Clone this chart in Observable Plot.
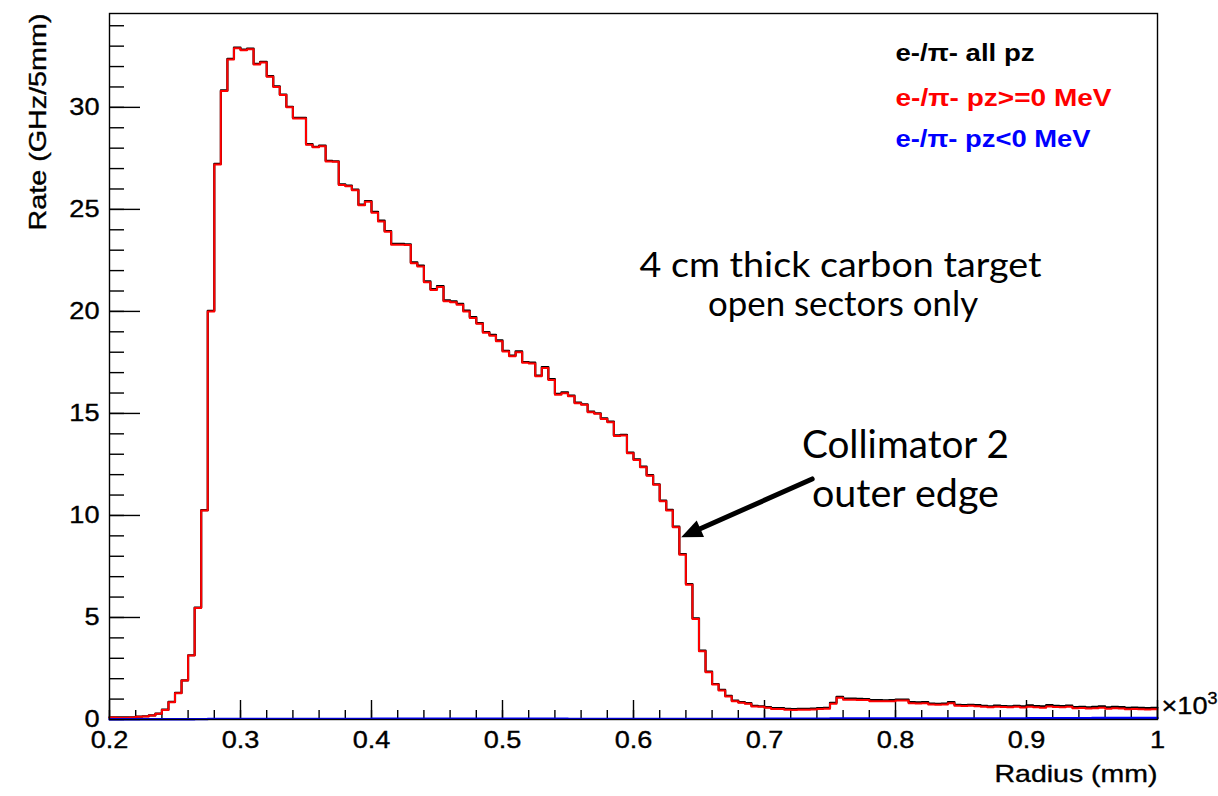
<!DOCTYPE html>
<html>
<head>
<meta charset="utf-8">
<script src="https://cdn.jsdelivr.net/npm/d3@7"></script>
<script src="https://cdn.jsdelivr.net/npm/@observablehq/plot@0.6"></script>
<style>
  html, body { margin: 0; padding: 0; background: #ffffff; }
  #chart { width: 1218px; height: 796px; }
  #chart svg g[aria-label="x-axis tick label"] text,
  #chart svg g[aria-label="y-axis tick label"] text,
  #chart svg .roottext text { stroke: #000; stroke-width: 0.35px; }
</style>
</head>
<body>
<div id="chart"></div>
<script>
// ---- binning (Radius in units of 10^3 mm, 5 mm bins) ----
const binLow = 0.2;
const binWidth = 0.005;
const binHigh = 1.0;

// ---- series values (GHz / 5mm), one value per bin ----
const allPz = [
  0.11, 0.10, 0.10, 0.11, 0.14, 0.16, 0.20, 0.29, 0.48, 0.86,
  1.30, 1.92, 3.15, 5.49, 10.26, 20.03, 27.23, 30.83, 32.38, 32.93,
  32.83, 32.88, 32.13, 32.23, 31.53, 31.03, 30.63, 30.03, 29.49, 29.48,
  28.20, 28.07, 28.12, 27.38, 27.36, 26.23, 26.16, 25.97, 25.23, 25.41,
  24.88, 24.45, 23.94, 23.31, 23.31, 23.29, 22.40, 22.24, 21.47, 21.09,
  21.24, 20.54, 20.49, 20.37, 20.04, 19.72, 19.43, 18.99, 18.85, 18.58,
  18.07, 17.84, 18.04, 17.52, 17.49, 16.86, 17.27, 16.68, 15.96, 16.03,
  15.87, 15.53, 15.45, 15.09, 15.01, 14.76, 14.60, 13.93, 13.95, 13.08,
  12.75, 12.39, 11.98, 11.53, 10.73, 10.27, 9.45, 8.11, 6.64, 4.96,
  3.38, 2.35, 1.74, 1.45, 1.16, 0.93, 0.85, 0.80, 0.67, 0.65,
  0.61, 0.56, 0.56, 0.52, 0.51, 0.52, 0.52, 0.53, 0.56, 0.57,
  0.82, 1.11, 1.02, 1.02, 1.01, 1.00, 0.95, 0.95, 0.94, 0.95,
  0.98, 0.98, 0.85, 0.84, 0.85, 0.78, 0.77, 0.78, 0.85, 0.72,
  0.71, 0.72, 0.70, 0.67, 0.65, 0.68, 0.66, 0.65, 0.67, 0.64,
  0.69, 0.66, 0.64, 0.70, 0.67, 0.66, 0.68, 0.61, 0.62, 0.60,
  0.62, 0.64, 0.60, 0.62, 0.61, 0.57, 0.58, 0.57, 0.56, 0.57
];
const pzPos = [
  0.10, 0.09, 0.09, 0.10, 0.13, 0.15, 0.19, 0.28, 0.47, 0.85,
  1.29, 1.91, 3.14, 5.47, 10.24, 20.00, 27.20, 30.80, 32.35, 32.90,
  32.80, 32.85, 32.10, 32.20, 31.50, 31.00, 30.60, 30.00, 29.46, 29.45,
  28.17, 28.04, 28.09, 27.35, 27.33, 26.20, 26.13, 25.94, 25.20, 25.38,
  24.84, 24.41, 23.90, 23.27, 23.27, 23.25, 22.36, 22.20, 21.43, 21.05,
  21.20, 20.50, 20.45, 20.33, 20.00, 19.68, 19.39, 18.95, 18.81, 18.54,
  18.03, 17.80, 18.00, 17.48, 17.45, 16.82, 17.23, 16.64, 15.92, 15.99,
  15.84, 15.50, 15.42, 15.06, 14.98, 14.73, 14.57, 13.90, 13.92, 13.05,
  12.72, 12.36, 11.95, 11.50, 10.70, 10.24, 9.42, 8.08, 6.61, 4.93,
  3.35, 2.32, 1.71, 1.42, 1.13, 0.90, 0.82, 0.77, 0.64, 0.62,
  0.57, 0.52, 0.52, 0.48, 0.47, 0.48, 0.48, 0.49, 0.52, 0.53,
  0.77, 1.06, 0.97, 0.97, 0.96, 0.95, 0.90, 0.90, 0.89, 0.90,
  0.93, 0.93, 0.80, 0.79, 0.80, 0.73, 0.72, 0.73, 0.80, 0.67,
  0.66, 0.67, 0.65, 0.62, 0.60, 0.63, 0.61, 0.60, 0.62, 0.59,
  0.63, 0.60, 0.58, 0.64, 0.61, 0.60, 0.62, 0.55, 0.56, 0.54,
  0.55, 0.57, 0.53, 0.55, 0.54, 0.50, 0.51, 0.50, 0.49, 0.50
];
const pzNeg = [
  0.01, 0.01, 0.01, 0.01, 0.01, 0.01, 0.01, 0.01, 0.01, 0.01,
  0.01, 0.01, 0.01, 0.02, 0.02, 0.03, 0.03, 0.03, 0.03, 0.03,
  0.03, 0.03, 0.03, 0.03, 0.03, 0.03, 0.03, 0.03, 0.03, 0.03,
  0.03, 0.03, 0.03, 0.03, 0.03, 0.03, 0.03, 0.03, 0.03, 0.03,
  0.04, 0.04, 0.04, 0.04, 0.04, 0.04, 0.04, 0.04, 0.04, 0.04,
  0.04, 0.04, 0.04, 0.04, 0.04, 0.04, 0.04, 0.04, 0.04, 0.04,
  0.04, 0.04, 0.04, 0.04, 0.04, 0.04, 0.04, 0.04, 0.04, 0.04,
  0.03, 0.03, 0.03, 0.03, 0.03, 0.03, 0.03, 0.03, 0.03, 0.03,
  0.03, 0.03, 0.03, 0.03, 0.03, 0.03, 0.03, 0.03, 0.03, 0.03,
  0.03, 0.03, 0.03, 0.03, 0.03, 0.03, 0.03, 0.03, 0.03, 0.03,
  0.04, 0.04, 0.04, 0.04, 0.04, 0.04, 0.04, 0.04, 0.04, 0.04,
  0.05, 0.05, 0.05, 0.05, 0.05, 0.05, 0.05, 0.05, 0.05, 0.05,
  0.05, 0.05, 0.05, 0.05, 0.05, 0.05, 0.05, 0.05, 0.05, 0.05,
  0.05, 0.05, 0.05, 0.05, 0.05, 0.05, 0.05, 0.05, 0.05, 0.05,
  0.06, 0.06, 0.06, 0.06, 0.06, 0.06, 0.06, 0.06, 0.06, 0.06,
  0.07, 0.07, 0.07, 0.07, 0.07, 0.07, 0.07, 0.07, 0.07, 0.07
];

// ---- legend ----
const seriesNames = ["e-/\u03C0- all pz", "e-/\u03C0- pz>=0 MeV", "e-/\u03C0- pz<0 MeV"];
const seriesColors = ["#000000", "#ff0000", "#0000ff"];

// ---- ticks ----
const xTicks = [0.2, 0.3, 0.4, 0.5, 0.6, 0.7, 0.8, 0.9, 1.0];
const xTickLabels = ["0.2", "0.3", "0.4", "0.5", "0.6", "0.7", "0.8", "0.9", "1"];
const yTicks = [0, 5, 10, 15, 20, 25, 30];
const yTickLabels = ["0", "5", "10", "15", "20", "25", "30"];
const xMinor = d3.range(0, 41).map(i => +(0.2 + i * 0.02).toFixed(2));
const yMinor = d3.range(0, 35);

// ---- annotations (data coordinates) ----
const notesA = [
  {text: "4 cm thick carbon target", x: 0.758, y: 22.2},
  {text: "open sectors only", x: 0.760, y: 20.3}
];
const notesB = [
  {text: "Collimator 2", x: 0.8076, y: 13.4},
  {text: "outer edge", x: 0.8076, y: 11.0}
];
const arrowData = [{x1: 0.7364, y1: 11.79, x2: 0.6364, y2: 8.93}];

// ---- build step rows from bin values ----
function steps(values) {
  const rows = values.map((v, i) => ({r: binLow + i * binWidth, v}));
  rows.push({r: binHigh, v: values[values.length - 1]});
  return rows;
}

// filled triangular arrow head, tip at the symbol origin, pointing along the arrow
const headSymbol = {
  draw(context) {
    const ux = -0.9135, uy = 0.4072;   // unit direction tail -> tip (screen space)
    const nx = -uy, ny = ux;
    const L = 21, hw = 9;
    const bx = -ux * L, by = -uy * L;
    context.moveTo(0, 0);
    context.lineTo(bx + nx * hw, by + ny * hw);
    context.lineTo(bx - nx * hw, by - ny * hw);
    context.closePath();
  }
};

const W = 1218, H = 796;
const mL = 109, mR = 61, mT = 13, mB = 77;
const plotW = W - mL - mR, plotH = H - mT - mB;
const xLab = new Map(xTicks.map((d, i) => [d, xTickLabels[i]]));
const yLab = new Map(yTicks.map((d, i) => [d, yTickLabels[i]]));

const chart = Plot.plot({
  width: W, height: H,
  marginLeft: mL, marginRight: mR, marginTop: mT, marginBottom: mB,
  x: {domain: [binLow, binHigh]},
  y: {domain: [0, 34.6]},
  style: {fontFamily: "'Liberation Sans', Arial, Helvetica, sans-serif", background: "#ffffff", color: "#000000", overflow: "visible"},
  marks: [
    Plot.ruleY(yMinor, {y: d => d, insetRight: plotW - 15, stroke: "#000", strokeWidth: 1.4}),
    Plot.ruleY(yTicks, {y: d => d, insetRight: plotW - 31, stroke: "#000", strokeWidth: 1.4}),
    Plot.ruleX(xMinor, {x: d => d, insetTop: plotH - 9, stroke: "#000", strokeWidth: 1.4}),
    Plot.ruleX(xTicks, {x: d => d, insetTop: plotH - 19, stroke: "#000", strokeWidth: 1.4}),
    Plot.line(steps(allPz), {x: "r", y: "v", curve: "step-after", stroke: seriesColors[0], strokeWidth: 2.2}),
    Plot.line(steps(pzPos), {x: "r", y: "v", curve: "step-after", stroke: seriesColors[1], strokeWidth: 2}),
    Plot.line(steps(pzNeg), {x: "r", y: "v", curve: "step-after", stroke: seriesColors[2], strokeWidth: 2.4}),
    Plot.frame({stroke: "#000", strokeWidth: 1.4}),
    Plot.axisX(xTicks, {tickSize: 0, tickPadding: 12, tickFormat: d => xLab.get(d), fontSize: 23, label: null}),
    Plot.axisY(yTicks, {tickSize: 0, tickPadding: 10, tickFormat: d => yLab.get(d), fontSize: 23, label: null}),
    Plot.text(["Rate (GHz/5mm)"], {frameAnchor: "top-left", rotate: -90, textAnchor: "end", dx: -81, dy: 0, fontSize: 24, text: d => d, className: "roottext"}),
    Plot.text(["Radius (mm)"], {frameAnchor: "bottom-right", textAnchor: "end", dx: 0, dy: 62, fontSize: 24, text: d => d, className: "roottext"}),
    Plot.text(["\u00D710"], {frameAnchor: "bottom-right", textAnchor: "start", dx: 4, dy: -6, fontSize: 24, text: d => d, className: "roottext"}),
    Plot.text(["3"], {frameAnchor: "bottom-right", textAnchor: "start", dx: 50, dy: -16, fontSize: 17, text: d => d, className: "roottext"}),
    ...seriesNames.map((name, i) => Plot.text([name], {
      frameAnchor: "top-left", textAnchor: "start", dx: 786, dy: [31, 76, 117][i],
      fontSize: 23, fontWeight: "bold", fill: seriesColors[i], text: d => d
    })),
    Plot.text(notesA, {x: "x", y: "y", text: "text", fontFamily: "Lato, 'Open Sans', sans-serif", fontSize: 34, fill: "#000"}),
    Plot.text(notesB, {x: "x", y: "y", text: "text", fontFamily: "Lato, 'Open Sans', sans-serif", fontSize: 38, fill: "#000"}),
    Plot.arrow(arrowData, {x1: "x1", y1: "y1", x2: "x2", y2: "y2", stroke: "#000", strokeWidth: 5, headLength: 0, insetEnd: 14}),
    Plot.dot(arrowData, {x: "x2", y: "y2", symbol: headSymbol, fill: "#000", stroke: "none", r: 10})
  ]
});

document.getElementById("chart").appendChild(chart);

// stretch texts horizontally like the original rendering
const targets = new Map([
  ["Rate (GHz/5mm)", 217],
  ["Radius (mm)", 163],
  ["\u00D710", 46],
  ["3", 10],
  [seriesNames[0], 139],
  [seriesNames[1], 216],
  [seriesNames[2], 195],
  ["4 cm thick carbon target", 402],
  ["open sectors only", 270],
  ["Collimator 2", 207],
  ["outer edge", 187]
]);
function stretch() {
  chart.querySelectorAll("text").forEach(t => {
    const s = t.textContent;
    t.removeAttribute("textLength");
    const w = t.getComputedTextLength();
    const target = targets.has(s) ? targets.get(s) : w * 1.18;
    t.setAttribute("textLength", target.toFixed(1));
    t.setAttribute("lengthAdjust", "spacingAndGlyphs");
  });
}
stretch();
if (document.fonts && document.fonts.ready) document.fonts.ready.then(stretch);
</script>
</body>
</html>
